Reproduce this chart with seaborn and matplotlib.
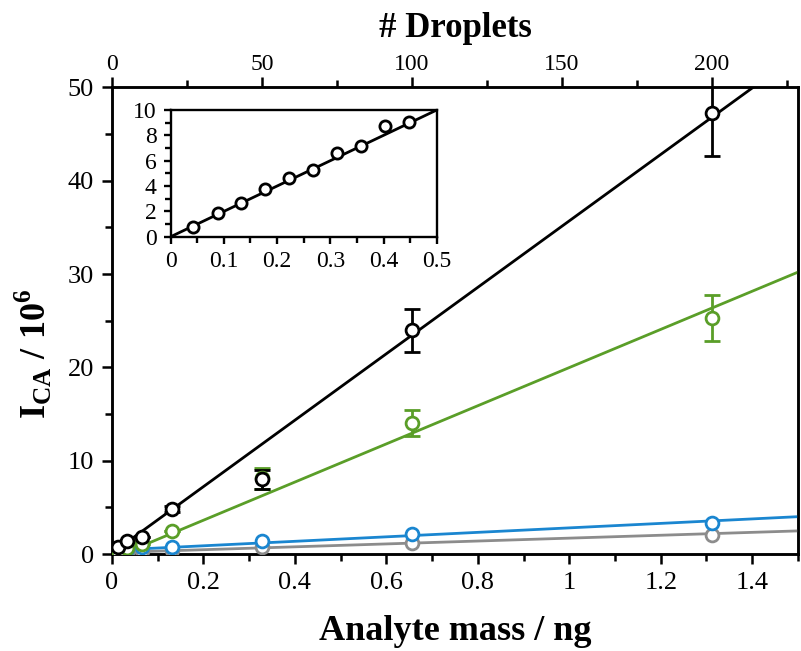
import matplotlib
matplotlib.use("Agg")
import matplotlib.pyplot as plt
import seaborn as sns
import numpy as np
import pandas as pd
from matplotlib.ticker import MultipleLocator

# ---------------- data ----------------
mass = [0.0131, 0.0328, 0.0656, 0.131, 0.328, 0.656, 1.312]
black_y = [0.78, 1.43, 1.8, 4.82, 8.0, 24.0, 47.3]
black_err = [0.0, 0.0, 0.0, 0.3, 1.0, 2.3, 4.7]
green_y = [0.25, 0.6, 1.1, 2.45, 8.1, 14.0, 25.3]
green_err = [0.0, 0.0, 0.0, 0.0, 1.1, 1.4, 2.5]
blue_y = [0.4, 0.5, 0.72, 0.8, 1.4, 2.14, 3.3]
gray_y = [0.2, 0.25, 0.3, 0.4, 0.75, 1.2, 2.0]

fit_slope = {"black": 35.6, "green": 20.45, "blue": 2.4, "gray": 1.55}
fit_icpt = {"black": 0.1, "green": -0.47, "blue": 0.4, "gray": 0.15}

ng_per_droplet = 0.00656
droplet_ticks = [0, 50, 100, 150, 200]

inset_x = [0.0425, 0.088, 0.133, 0.177, 0.223, 0.268, 0.313, 0.357, 0.402, 0.447]
inset_y = [0.79, 1.85, 2.63, 3.76, 4.6, 5.3, 6.58, 7.18, 8.74, 9.08]
inset_slope, inset_icpt = 20.0, 0.0

colors = {"black": "#000000", "green": "#5a9e28", "blue": "#1a86d0", "gray": "#8c8c8c"}

# ---------------- style ----------------
sns.set_theme(style="ticks")
plt.rcParams["font.family"] = ["Liberation Serif", "DejaVu Serif"]
plt.rcParams["mathtext.fontset"] = "custom"
plt.rcParams["mathtext.rm"] = "Liberation Serif"
plt.rcParams["mathtext.bf"] = "Liberation Serif:bold"
for k in ["text.color", "axes.labelcolor", "xtick.color", "ytick.color", "axes.edgecolor"]:
    plt.rcParams[k] = "black"
plt.rcParams["axes.linewidth"] = 1.8

fig = plt.figure(figsize=(8.01, 6.51), dpi=100)
ax = fig.add_axes([0.1398, 0.149, 0.8564, 0.7167])

xlim = (0, 1.5)
ylim = (0, 50)

series = [("gray", gray_y, None), ("blue", blue_y, None),
          ("green", green_y, green_err), ("black", black_y, black_err)]

for name, ys, errs in series:
    c = colors[name]
    fx = np.array(xlim)
    fit_df = pd.DataFrame({"x": fx, "y": fit_slope[name] * fx + fit_icpt[name]})
    sns.lineplot(data=fit_df, x="x", y="y", ax=ax, color=c, lw=2.0, zorder=2)
    if errs is not None:
        ax.errorbar(mass, ys, yerr=errs, fmt="none", ecolor=c, elinewidth=2.0,
                    capsize=6, capthick=2.0, zorder=3)
    df = pd.DataFrame({"x": mass, "y": ys})
    sns.scatterplot(data=df, x="x", y="y", ax=ax, marker="o", s=85,
                    facecolor="white", edgecolor=c, linewidth=2.0, zorder=4)

ax.set_xlim(*xlim)
ax.set_ylim(*ylim)
ax.xaxis.set_major_locator(MultipleLocator(0.2))
ax.xaxis.set_minor_locator(MultipleLocator(0.1))
ax.yaxis.set_major_locator(MultipleLocator(10))
ax.yaxis.set_minor_locator(MultipleLocator(5))
ax.set_xticklabels([("0" if abs(v) < 1e-9 else ("1" if abs(v - 1) < 1e-9 else f"{v:.1f}"))
                    for v in ax.get_xticks()])
ax.tick_params(axis="both", which="major", direction="out", length=7, width=1.8,
               labelsize=19, top=False, right=False, pad=6)
ax.tick_params(axis="both", which="minor", direction="out", length=5, width=1.8,
               top=False, right=False)
ax.set_xlabel("Analyte mass / ng", fontsize=26, fontweight="bold")
ax.xaxis.set_label_coords(0.5, -0.13)
ax.set_ylabel(r"I$_{\mathbf{CA}}$ / 10$^{\mathbf{6}}$", fontsize=26, fontweight="bold")
ax.yaxis.set_label_coords(-0.085, 0.43)
for s in ax.spines.values():
    s.set_visible(True)
    s.set_linewidth(1.8)

# top axis (droplets)
ax2 = ax.twiny()
ax2.set_xlim(xlim[0] / ng_per_droplet, xlim[1] / ng_per_droplet)
ax2.set_xticks(droplet_ticks)
ax2.xaxis.set_minor_locator(MultipleLocator(25))
ax2.tick_params(axis="x", which="major", direction="out", length=7, width=1.8,
                labelsize=17, pad=2)
ax2.tick_params(axis="x", which="minor", direction="out", length=5, width=1.8)
ax2.set_xlabel("# Droplets", fontsize=25, fontweight="bold", labelpad=12)
ax2.set_zorder(ax.get_zorder() - 1)
ax.patch.set_visible(False)

# ---------------- inset ----------------
axi = fig.add_axes([0.2131, 0.6364, 0.3321, 0.1946])
ix = np.array([0.0, 0.5])
inset_fit = pd.DataFrame({"x": ix, "y": inset_slope * ix + inset_icpt})
sns.lineplot(data=inset_fit, x="x", y="y", ax=axi, color="black", lw=2.0, zorder=2)
inset_df = pd.DataFrame({"x": inset_x, "y": inset_y})
sns.scatterplot(data=inset_df, x="x", y="y", ax=axi, marker="o", s=65,
                facecolor="white", edgecolor="black", linewidth=2.0, zorder=3)
axi.set_xlim(0, 0.5)
axi.set_ylim(0, 10)
axi.xaxis.set_major_locator(MultipleLocator(0.1))
axi.xaxis.set_minor_locator(MultipleLocator(0.05))
axi.yaxis.set_major_locator(MultipleLocator(2))
axi.yaxis.set_minor_locator(MultipleLocator(1))
axi.set_xticklabels([("0" if abs(v) < 1e-9 else f"{v:.1f}") for v in axi.get_xticks()])
axi.tick_params(axis="both", which="major", direction="out", length=5, width=1.7,
                labelsize=17, pad=5)
axi.tick_params(axis="both", which="minor", direction="out", length=4, width=1.7)
axi.set_xlabel("")
axi.set_ylabel("")
for s in axi.spines.values():
    s.set_visible(True)
    s.set_linewidth(1.7)

fig.savefig("out.png", dpi=100)
